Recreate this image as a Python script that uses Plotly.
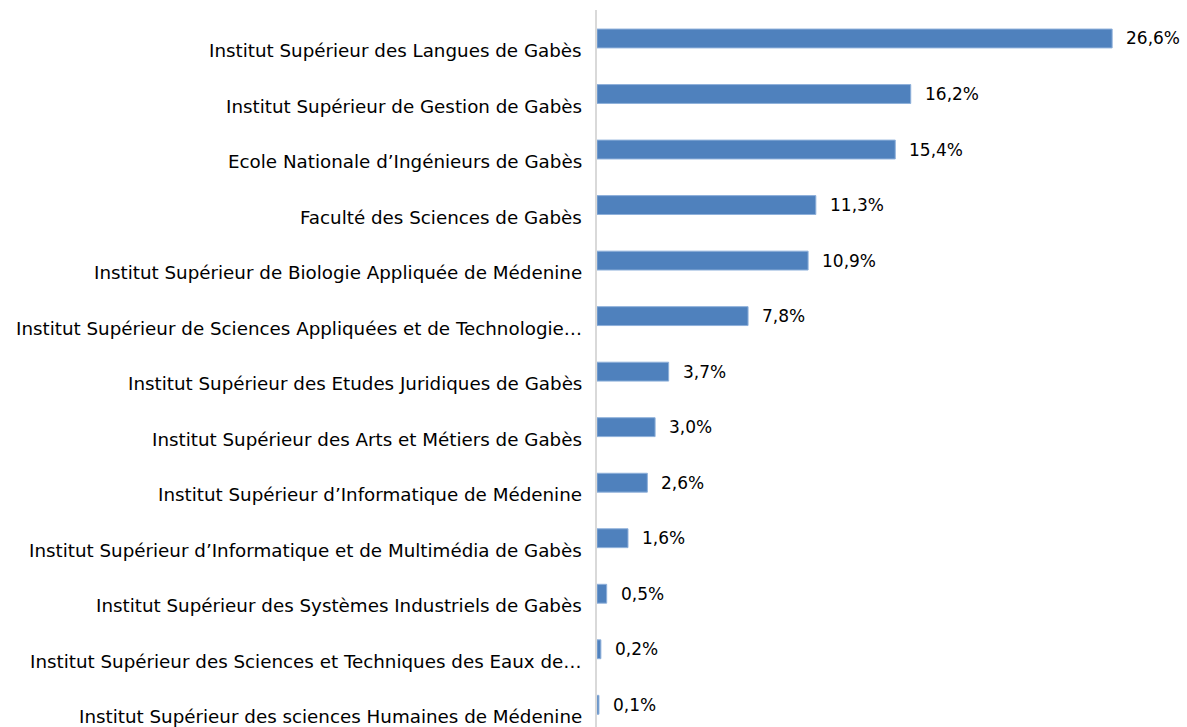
import plotly.graph_objects as go

categories = [
    "Institut Supérieur des Langues de Gabès",
    "Institut Supérieur de Gestion de Gabès",
    "Ecole Nationale d’Ingénieurs de Gabès",
    "Faculté des Sciences de Gabès",
    "Institut Supérieur de Biologie Appliquée de Médenine",
    "Institut Supérieur de Sciences Appliquées et de Technologie…",
    "Institut Supérieur des Etudes Juridiques de Gabès",
    "Institut Supérieur des Arts et Métiers de Gabès",
    "Institut Supérieur d’Informatique de Médenine",
    "Institut Supérieur d’Informatique et de Multimédia de Gabès",
    "Institut Supérieur des Systèmes Industriels de Gabès",
    "Institut Supérieur des Sciences et Techniques des Eaux de…",
    "Institut Supérieur des sciences Humaines de Médenine",
]
values = [26.6, 16.2, 15.4, 11.3, 10.9, 7.8, 3.7, 3.0, 2.6, 1.6, 0.5, 0.2, 0.1]
value_labels = ["26,6%", "16,2%", "15,4%", "11,3%", "10,9%", "7,8%", "3,7%",
                "3,0%", "2,6%", "1,6%", "0,5%", "0,2%", "0,1%"]

FONT = "'DejaVu Sans', 'Open Sans', sans-serif"

fig = go.Figure(go.Bar(
    x=values, y=categories, orientation="h", width=0.34,
    marker=dict(color="#4F81BD", line=dict(color="#8EB0DA", width=1)),
    hoverinfo="skip",
))

annotations = []
for c, v, t in zip(categories, values, value_labels):
    annotations.append(dict(x=v, y=c, xref="x", yref="y", text=t, showarrow=False,
                            xanchor="left", yanchor="middle", xshift=12, yshift=0,
                            font=dict(family=FONT, size=17, color="#000000")))
    annotations.append(dict(x=0, y=c, xref="x", yref="y", text=c, showarrow=False,
                            xanchor="right", yanchor="middle", xshift=-13, yshift=-12,
                            font=dict(family=FONT, size=18.3, color="#000000")))

fig.update_layout(
    width=1187, height=727,
    margin=dict(l=597, r=9, t=10, b=0),
    paper_bgcolor="white", plot_bgcolor="white",
    showlegend=False,
    annotations=annotations,
    xaxis=dict(range=[0, 30], showgrid=False, zeroline=False, showticklabels=False,
               showline=False, ticks=""),
    yaxis=dict(range=[12.4, -0.513], showgrid=False, zeroline=False,
               showticklabels=False, showline=True, linecolor="#D9D9D9", linewidth=2,
               ticks="", categoryorder="array", categoryarray=categories),
)

fig.write_html("out.html", config={"displayModeBar": False},
               post_script="document.body.style.margin='0px';document.body.style.overflow='hidden';")
